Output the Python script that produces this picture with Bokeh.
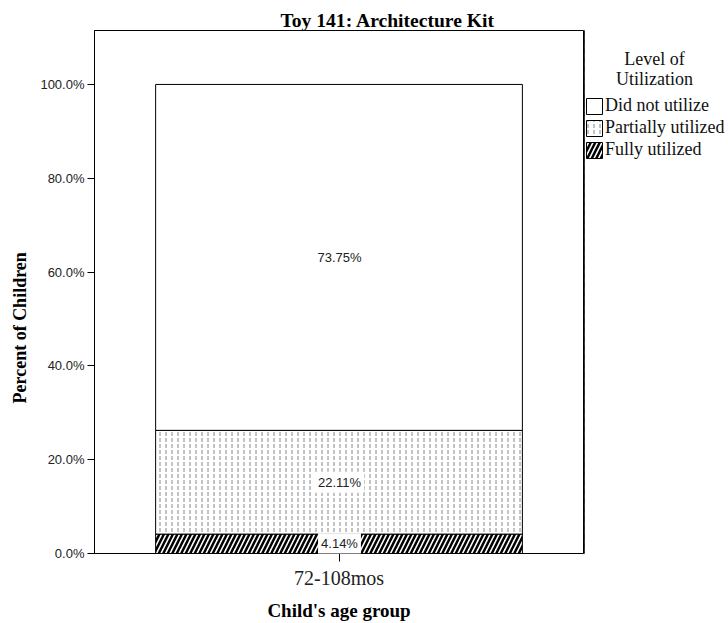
from bokeh.plotting import figure
from bokeh.layouts import row
from bokeh.models import (ColumnDataSource, Range1d, FactorRange, Legend, LegendItem,
                          Label, Title, FixedTicker, PrintfTickFormatter)
from bokeh.embed import file_html
from bokeh.resources import INLINE

# ---- data ----
categories = ["72-108mos"]
levels = ["Fully utilized", "Partially utilized", "Did not utilize"]
values = [4.14, 22.11, 73.75]
value_labels = ["4.14%", "22.11%", "73.75%"]
y_ticks = [0, 20, 40, 60, 80, 100]
title_text = "Toy 141: Architecture Kit"
legend_title = ["Level of", "Utilization"]
x_title = "Child's age group"
y_title = "Percent of Children"

SERIF = "Liberation Serif"
SANS = "Liberation Sans"

p = figure(x_range=FactorRange(*categories, range_padding=0),
           y_range=Range1d(0, 111.5),
           width=584, height=623, output_backend="svg", toolbar_location=None,
           min_border_left=93, min_border_right=1, min_border_top=30, min_border_bottom=70)

p.outline_line_color = "black"
p.outline_line_width = 1
p.xgrid.visible = False
p.ygrid.visible = False
p.background_fill_color = "white"

styles = {
    "Fully utilized": dict(hatch_pattern="/", hatch_scale=9, hatch_weight=2.5, hatch_color="black"),
    "Partially utilized": dict(hatch_pattern=":", hatch_scale=6, hatch_weight=1, hatch_color="#888888"),
    "Did not utilize": dict(),
}

bottom = 0.0
for lvl, v, lab in zip(levels, values, value_labels):
    src = ColumnDataSource(dict(x=categories, bottom=[bottom], top=[bottom + v]))
    p.vbar(x="x", bottom="bottom", top="top", width=0.75, source=src,
           fill_color="white", line_color="black", line_width=1, **styles[lvl])
    p.add_layout(Label(x=245, x_units="screen", y=bottom + v / 2, text=lab,
                       text_font=SANS, text_font_size="13px", text_color="#222222",
                       text_align="center", text_baseline="middle",
                       background_fill_color="white", padding=3))
    bottom += v

# title
p.title.text = title_text
p.title.align = "left"
p.title.offset = 186
p.title.standoff = 0
p.title.text_font = SERIF
p.title.text_font_size = "19.6px"
p.title.text_font_style = "bold"
p.title.text_color = "black"

# axes
p.yaxis.ticker = FixedTicker(ticks=y_ticks)
p.yaxis.formatter = PrintfTickFormatter(format="%.1f%%")
p.yaxis.major_label_text_font = SANS
p.yaxis.major_label_text_font_size = "13px"
p.yaxis.major_label_text_color = "#222222"
p.yaxis.major_tick_out = 7
p.yaxis.major_tick_in = 0
p.yaxis.minor_tick_out = 0
p.yaxis.minor_tick_in = 0
p.yaxis.major_label_standoff = 3
p.yaxis.axis_line_color = "black"
p.yaxis.major_tick_line_color = "black"

p.xaxis.major_label_text_font = SERIF
p.xaxis.major_label_text_font_size = "20px"
p.xaxis.major_label_text_color = "#222222"
p.xaxis.major_tick_out = 8
p.xaxis.major_tick_in = 0
p.xaxis.major_label_standoff = 5
p.xaxis.axis_line_color = "black"
p.xaxis.major_tick_line_color = "black"
p.xaxis.axis_label = x_title
p.xaxis.axis_label_text_font = SERIF
p.xaxis.axis_label_text_font_size = "19px"
p.xaxis.axis_label_text_font_style = "bold"
p.xaxis.axis_label_text_color = "black"
p.xaxis.axis_label_standoff = 8

p.add_layout(Title(text=y_title, align="left", offset=150, standoff=15,
                   text_font=SERIF, text_font_size="18px", text_font_style="bold",
                   text_color="black"), "left")

# ---- side panel with legend ----
side = figure(width=144, height=623, output_backend="svg", toolbar_location=None,
              x_range=Range1d(0, 1), y_range=Range1d(0, 1),
              x_axis_type=None, y_axis_type=None,
              min_border_left=0, min_border_right=0, min_border_top=0, min_border_bottom=0)
side.outline_line_color = None
side.xgrid.visible = False
side.ygrid.visible = False

items = []
for lvl, v in zip(reversed(levels), reversed(values)):
    # proxy glyph (placed outside the visible range) so the legend can show the swatch
    r = side.vbar(x=[-5], top=[v], width=0.1, fill_color="white", line_color="black",
                  line_width=1, **styles[lvl])
    items.append(LegendItem(label=lvl, renderers=[r]))

for txt, yy in zip(legend_title, [495, 475]):
    side.add_layout(Label(x=70, y=yy, x_units="screen", y_units="screen", text=txt,
                          text_font=SERIF, text_font_size="18px",
                          text_align="center", text_baseline="alphabetic", text_color="#111111"))

legend = Legend(items=items, location=(0, 393), orientation="vertical",
                glyph_width=20, glyph_height=20, label_height=17, spacing=1,
                label_standoff=1, padding=0, margin=0,
                label_text_font=SERIF, label_text_font_size="18px", label_text_color="#111111",
                border_line_color=None, background_fill_alpha=0)
side.add_layout(legend, "center")

layout = row(p, side, spacing=0)
open("out.html", "w").write(file_html(layout, INLINE))
